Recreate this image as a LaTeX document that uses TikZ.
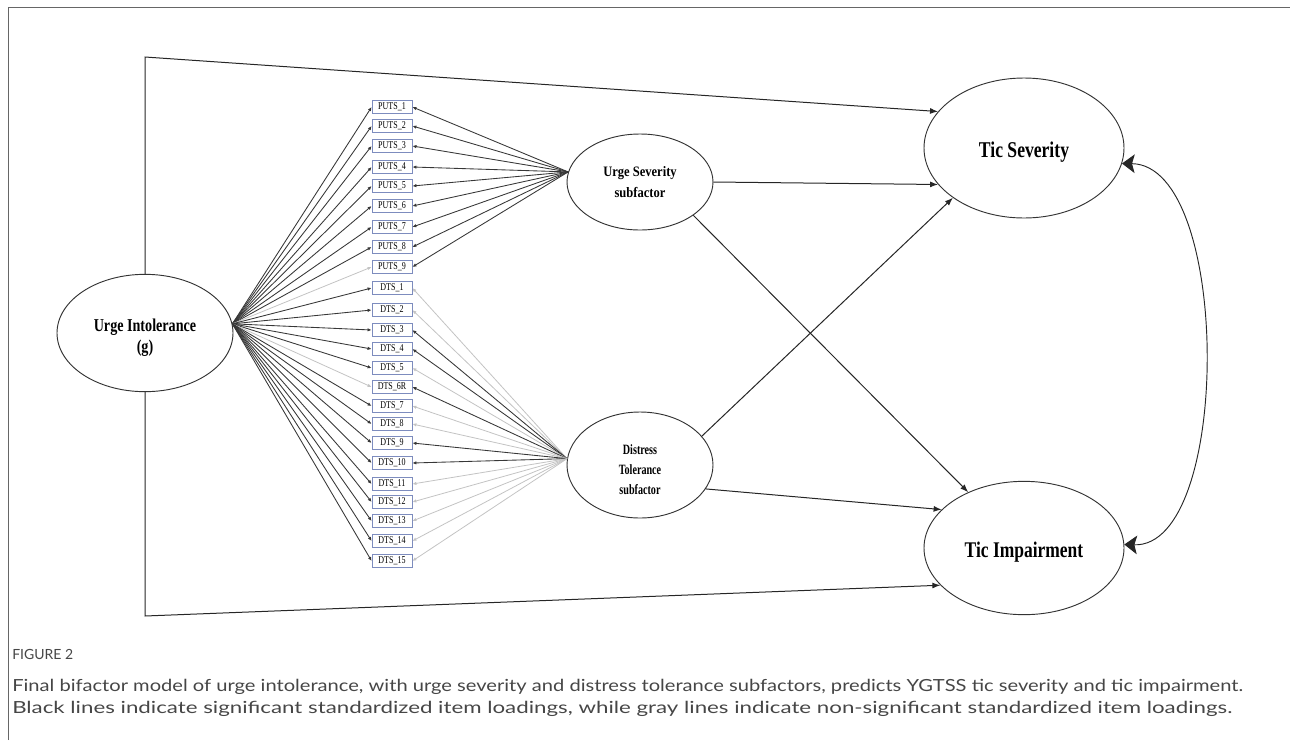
\documentclass[tikz,border=0pt]{standalone}
\usepackage{graphicx}
\usepackage{fontspec}
\setmainfont{Liberation Serif}
\newfontfamily\capfont{Lato}
\usetikzlibrary{shapes.geometric,arrows.meta}
\newcommand{\tallt}[2][1.28]{\scalebox{1}[#1]{#2}}
\definecolor{boxblue}{RGB}{125,140,190}
\definecolor{dkl}{RGB}{55,55,55}
\definecolor{ltl}{RGB}{195,195,195}
\definecolor{capgray}{RGB}{70,70,70}
\begin{document}
\begin{tikzpicture}[x=0.75pt,y=-0.75pt,
  latent/.style={ellipse,draw=black!80,line width=0.7pt,inner sep=0pt,align=center},
  item/.style={draw=boxblue,line width=0.6pt,minimum width=30pt,minimum height=9.8pt,inner sep=0pt,font=\fontsize{6}{7}\selectfont},
  mainarrow/.style={draw=black!85,line width=0.75pt,-{Latex[length=6pt,width=4.5pt]}},
  dkload/.style={draw=dkl,line width=0.65pt,-{Latex[length=3pt,width=2.6pt]}},
  ltload/.style={draw=ltl,line width=0.6pt,-{Latex[length=3pt,width=2.6pt]}},
  bigarrow/.style={draw=black!85,line width=0.7pt,{Stealth[length=9.5pt,width=14pt,inset=2pt]}-{Stealth[length=9.5pt,width=14pt,inset=2pt]}},
  frame/.style={draw=black!60,line width=0.75pt},
  captext/.style={anchor=base west,inner sep=0pt,text=capgray}
]
\useasboundingbox (0,0) rectangle (1290,740);
\draw[frame] (8,740) -- (8,7) -- (1290,7);

% latent variables
\node[latent,minimum width=132pt,minimum height=88pt,font=\bfseries\fontsize{10.6}{15.5}\selectfont] (g) at (145,333) {\rule{0pt}{16.5pt}\tallt{Urge Intolerance}\\\tallt{(g)}};
\node[latent,minimum width=109.5pt,minimum height=72pt,font=\bfseries\fontsize{9.4}{16}\selectfont] (us) at (640,182) {\tallt[1.15]{Urge Severity}\\\tallt[1.15]{subfactor}};
\node[latent,minimum width=109.5pt,minimum height=79.5pt,font=\bfseries\fontsize{7.6}{15}\selectfont] (ds) at (640,465) {\rule{0pt}{15pt}\tallt[1.4]{Distress}\\\tallt[1.4]{Tolerance}\\\tallt[1.4]{subfactor}};
\node[latent,minimum width=150pt,minimum height=105pt,font=\bfseries\fontsize{13.2}{16}\selectfont] (ts) at (1024,148) {\rule{0pt}{17.5pt}\tallt{Tic Severity}};
\node[latent,minimum width=150pt,minimum height=100pt,font=\bfseries\fontsize{13.1}{16}\selectfont] (ti) at (1024,548) {\rule{0pt}{17.5pt}\tallt{Tic Impairment}};

% items
\foreach \n/\yy/\lab in {P1/107/PUTS\_1,P2/126/PUTS\_2,P3/146/PUTS\_3,P4/167/PUTS\_4,P5/186/PUTS\_5,P6/206/PUTS\_6,P7/227/PUTS\_7,P8/247/PUTS\_8,P9/267/PUTS\_9,
  D1/288/DTS\_1,D2/310/DTS\_2,D3/330/DTS\_3,D4/349/DTS\_4,D5/368/DTS\_5,D6/387/DTS\_6R,D7/406/DTS\_7,D8/424/DTS\_8,D9/443/DTS\_9,D10/463/DTS\_10,
  D11/484/DTS\_11,D12/502/DTS\_12,D13/521/DTS\_13,D14/541/DTS\_14,D15/561/DTS\_15}
  \node[item] (\n) at (392,\yy) {\tallt[1.3]{\lab}};

\coordinate (gp) at (g.6);
\coordinate (usp) at (us.172);
\coordinate (dsp) at (ds.175);

% general factor loadings
\foreach \n/\s in {P1/dkload,P2/dkload,P3/dkload,P4/dkload,P5/dkload,P6/dkload,P7/dkload,P8/dkload,P9/ltload,
  D1/dkload,D2/dkload,D3/dkload,D4/dkload,D5/dkload,D6/ltload,D7/dkload,D8/dkload,D9/dkload,D10/dkload,
  D11/dkload,D12/dkload,D13/dkload,D14/dkload,D15/dkload}
  \draw[\s] (gp) -- (\n.west);

% urge severity loadings
\foreach \n in {P1,P2,P3,P4,P5,P6,P7,P8,P9}
  \draw[dkload] (usp) -- (\n.east);

% distress tolerance loadings
\foreach \n/\s in {D1/ltload,D2/ltload,D3/dkload,D4/dkload,D5/ltload,D6/dkload,D7/ltload,D8/ltload,D9/dkload,D10/dkload,
  D11/ltload,D12/ltload,D13/ltload,D14/ltload,D15/ltload}
  \draw[\s] (dsp) -- (\n.east);

% structural paths
\coordinate (tl) at (145,57);
\coordinate (bl) at (145,616);
\draw[mainarrow] (g.north) -- (tl) -- (ts.157);
\draw[mainarrow] (g.south) -- (bl) -- (ti.204);
\draw[mainarrow] (us.east) -- (ts.203);
\draw[mainarrow] (us.-32) -- (ti.135);
\draw[mainarrow] (ds.25) -- (ts.215);
\draw[mainarrow] (ds.-20) -- (ti.155);
\draw[bigarrow] (ts.-9) .. controls (1232,165) and (1232,548) .. (ti.2);

% caption
\node[captext] (fig) at (12,659) {\capfont\fontsize{10.5}{12}\selectfont FIGURE 2};
\node[captext] (cap1) at (12,691) {\resizebox{923pt}{\height}{\capfont\fontsize{12.5}{15}\selectfont Final bifactor model of urge intolerance, with urge severity and distress tolerance subfactors, predicts YGTSS tic severity and tic impairment.}};
\node[captext] (cap2) at (12,713) {\resizebox{915pt}{\height}{\capfont\fontsize{12.5}{15}\selectfont Black lines indicate significant standardized item loadings, while gray lines indicate non-significant standardized item loadings.}};
\end{tikzpicture}
\end{document}
